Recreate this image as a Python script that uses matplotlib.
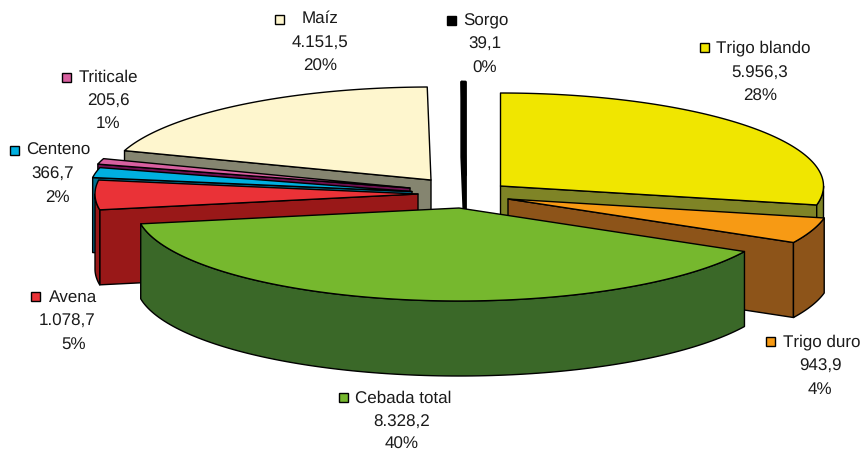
import numpy as np
import matplotlib
matplotlib.use('Agg')
import matplotlib.pyplot as plt
from matplotlib.patches import Polygon, Rectangle

plt.rcParams['font.family'] = ['Liberation Sans', 'DejaVu Sans']
plt.rcParams['text.hinting'] = 'none'
plt.rcParams['text.hinting_factor'] = 1

# datos, en orden horario desde las 12
names = ['Trigo blando', 'Trigo duro', 'Cebada total', 'Avena', 'Centeno', 'Triticale', 'Maíz', 'Sorgo']
values = [5956.3, 943.9, 8328.2, 1078.7, 366.7, 205.6, 4151.5, 39.1]
top_colors = ['#F0E600', '#F79A14', '#76B82E', '#EA3237', '#00B0E0', '#D860A0', '#FEF6CE', '#000000']
side_colors = ['#7F8426', '#8D5419', '#3A6828', '#991818', '#00708F', '#6E1050', '#858570', '#000000']

# centro de cada porcion (pixeles), ya con la separacion
centers = [(500.5, 187), (508, 200), (459, 209), (418, 195), (412, 192.5), (410, 189), (431, 181), (465.5, 176)]
draw_order = [7, 6, 5, 4, 3, 0, 1, 2]

# posicion de las etiquetas: cuadro, nombre, valor, %
key_xy = [(705, 48), (771, 342), (344, 398), (36, 297), (15, 151), (67, 78), (280, 20), (452, 21)]
name_xy = [(716, 48), (783, 342), (355, 398), (49, 297), (26, 150), (79, 77), (302, 18), (463, 21)]
value_xy = [(760, 73), (820, 366), (402, 422), (67, 321), (53, 174), (108, 101), (320, 42), (485, 44)]
pct_xy = [(760, 96), (820, 390), (402, 444), (74, 344), (57, 198), (108, 124), (320, 66), (485, 68)]

rx = 323
ry = 93
depth = 75
font_px = 16.6


def es_number(v):
    return f'{v:,.1f}'.replace(',', '#').replace('.', ',').replace('#', '.')


def pt(c, t):
    return np.column_stack([c[0] + rx * np.sin(t), c[1] - ry * np.cos(t)])


fig = plt.figure(figsize=(8.62, 4.52), dpi=100)
ax = fig.add_axes([0, 0, 1, 1])
ax.set_xlim(0, 862)
ax.set_ylim(452, 0)
ax.axis('off')

total = sum(values)
edges = np.radians(np.concatenate([[0], np.cumsum(values)]) / total * 360)
down = np.array([0, depth])

for i in draw_order:
    c = centers[i]
    t0, t1 = edges[i], edges[i + 1]
    tip = np.array(c, dtype=float)
    # el sorgo es casi una linea, se engorda el borde
    line = dict(edgecolor='black', linewidth=2.0 if names[i] == 'Sorgo' else 1.0, joinstyle='round')

    # caras de corte que se ven desde delante
    if np.sin(t1) > 0:
        e = pt(c, np.array([t1]))[0]
        ax.add_patch(Polygon([tip, e, e + down, tip + down], facecolor=side_colors[i], **line))
    if np.sin(t0) < 0:
        e = pt(c, np.array([t0]))[0]
        ax.add_patch(Polygon([tip, e, e + down, tip + down], facecolor=side_colors[i], **line))

    # pared exterior, solo la mitad delantera
    a0, a1 = max(t0, np.pi / 2), min(t1, 3 * np.pi / 2)
    if a1 > a0:
        arc = pt(c, np.linspace(a0, a1, 120))
        ax.add_patch(Polygon(np.vstack([arc, arc[::-1] + down]), facecolor=side_colors[i], **line))

    # tapa
    arc = pt(c, np.linspace(t0, t1, 200))
    ax.add_patch(Polygon(np.vstack([tip, arc]), facecolor=top_colors[i], **line))

fs = font_px * 72 / fig.dpi
for i, name in enumerate(names):
    kx, ky = key_xy[i]
    ax.add_patch(Rectangle((kx - 4.5, ky - 4.5), 9, 9, facecolor=top_colors[i], edgecolor='black', linewidth=1.0))
    ax.text(*name_xy[i], name, fontsize=fs, ha='left', va='center', color='#1a1a1a')
    ax.text(*value_xy[i], es_number(values[i]), fontsize=fs, ha='center', va='center', color='#1a1a1a')
    ax.text(*pct_xy[i], f'{values[i] / total * 100:.0f}%', fontsize=fs, ha='center', va='center', color='#1a1a1a')

fig.savefig('out.png', dpi=100)
